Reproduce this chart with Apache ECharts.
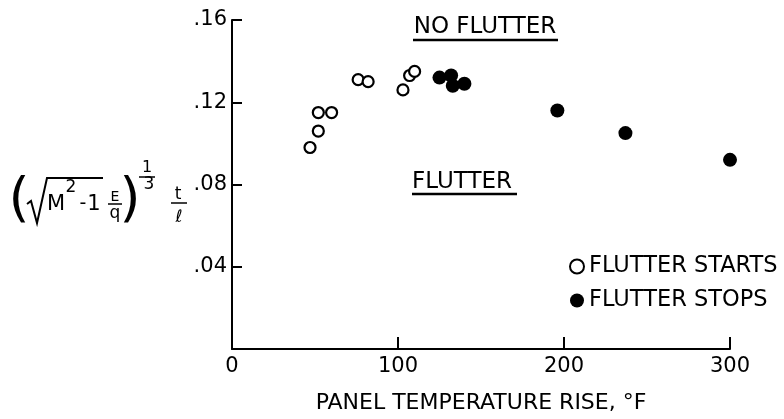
<!DOCTYPE html>
<html>
<head>
<meta charset="utf-8">
<script src="https://cdn.jsdelivr.net/npm/echarts@6/dist/echarts.min.js"></script>
<style>
  html, body { margin: 0; padding: 0; background: #fff; }
  #chart { width: 784px; height: 419px; }
</style>
</head>
<body>
<div id="chart"></div>
<script>
// flutter boundary points
let startsX = [47, 52, 52, 60, 76, 82, 103, 107, 110]
let startsY = [0.098, 0.106, 0.115, 0.115, 0.131, 0.130, 0.126, 0.133, 0.135]
let stopsX = [125, 132, 133, 140, 196, 237, 300]
let stopsY = [0.132, 0.133, 0.128, 0.129, 0.116, 0.105, 0.092]

let seriesNames = ['FLUTTER STARTS', 'FLUTTER STOPS']
let xTicks = [0, 100, 200, 300]
let yTicks = [0, 0.04, 0.08, 0.12, 0.16]
let xTitle = 'PANEL TEMPERATURE RISE, °F'

let font = 'DejaVu Sans'
let ink = '#000'

function pairs(xs, ys) {
  return xs.map((x, i) => [x, ys[i]])
}

function txt(text, x, y, size, extra) {
  return {
    type: 'text',
    style: Object.assign({
      text: text, x: x, y: y,
      font: size + 'px "' + font + '"',
      fill: ink, textAlign: 'center', textVerticalAlign: 'middle'
    }, extra || {})
  }
}

function seg(x1, y1, x2, y2, w) {
  return {
    type: 'line',
    shape: { x1: x1, y1: y1, x2: x2, y2: y2 },
    style: { stroke: ink, lineWidth: w || 2 }
  }
}

let chart = echarts.init(document.getElementById('chart'))

let option = {
  backgroundColor: '#fff',
  animation: false,
  grid: { left: 232, right: 54, top: 20, bottom: 62 },
  legend: {
    orient: 'vertical',
    left: 564,
    top: 250,
    itemWidth: 14,
    itemHeight: 14,
    itemGap: 11,
    data: seriesNames,
    textStyle: { fontFamily: font, fontSize: 22.5, color: ink, lineHeight: 23 }
  },
  xAxis: {
    type: 'value',
    min: xTicks[0],
    max: xTicks[xTicks.length - 1],
    interval: 100,
    name: xTitle,
    nameLocation: 'middle',
    nameGap: 43,
    nameTextStyle: { fontFamily: font, fontSize: 22, color: ink },
    axisLine: { show: true, lineStyle: { color: ink, width: 2 } },
    axisTick: { show: true, inside: true, length: 12, lineStyle: { color: ink, width: 2 } },
    axisLabel: { fontFamily: font, fontSize: 21, color: ink, margin: 7 },
    splitLine: { show: false }
  },
  yAxis: {
    type: 'value',
    min: yTicks[0],
    max: yTicks[yTicks.length - 1],
    interval: 0.04,
    axisLine: { show: true, lineStyle: { color: ink, width: 2 } },
    axisTick: { show: true, inside: true, length: 10, lineStyle: { color: ink, width: 2 } },
    axisLabel: {
      fontFamily: font, fontSize: 21, color: ink, margin: 5,
      formatter: function (v) {
        if (v === 0) return ''
        return v.toFixed(2).slice(1)
      }
    },
    splitLine: { show: false }
  },
  series: [
    {
      name: seriesNames[0],
      type: 'scatter',
      symbol: 'circle',
      symbolSize: 11,
      clip: false,
      itemStyle: { color: '#fff', borderColor: ink, borderWidth: 2.2, opacity: 1 },
      data: pairs(startsX, startsY)
    },
    {
      name: seriesNames[1],
      type: 'scatter',
      symbol: 'circle',
      symbolSize: 14,
      clip: false,
      itemStyle: { color: ink, opacity: 1 },
      data: pairs(stopsX, stopsY)
    }
  ],
  graphic: [
    // region labels
    txt('NO FLUTTER', 485, 27, 23),
    seg(413, 40, 558, 40, 2.5),
    txt('FLUTTER', 462, 182, 23),
    seg(412, 194, 517, 194, 2.5),
    // y axis title: (sqrt(M^2-1) E/q)^(1/3) t/l
    txt('(', 19, 202, 54),
    {
      type: 'polyline',
      shape: { points: [[27, 204], [31, 201], [37, 223], [47, 178], [103, 178]] },
      style: { stroke: ink, lineWidth: 2, fill: null }
    },
    txt('M', 56, 205, 21),
    txt('2', 71, 188, 17),
    txt('-', 83, 204, 19),
    txt('1', 94, 205, 21),
    txt('E', 115, 197, 14),
    seg(108, 204, 122, 204, 1.5),
    txt('q', 115, 214, 17),
    txt(')', 130, 202, 54),
    txt('1', 147, 168, 16),
    seg(139, 177, 155, 177, 1.5),
    txt('3', 149, 185, 17),
    txt('t', 178, 195, 17),
    seg(171, 203, 187, 203, 1.5),
    txt('ℓ', 179, 218, 17)
  ]
}

chart.setOption(option)
</script>
</body>
</html>
